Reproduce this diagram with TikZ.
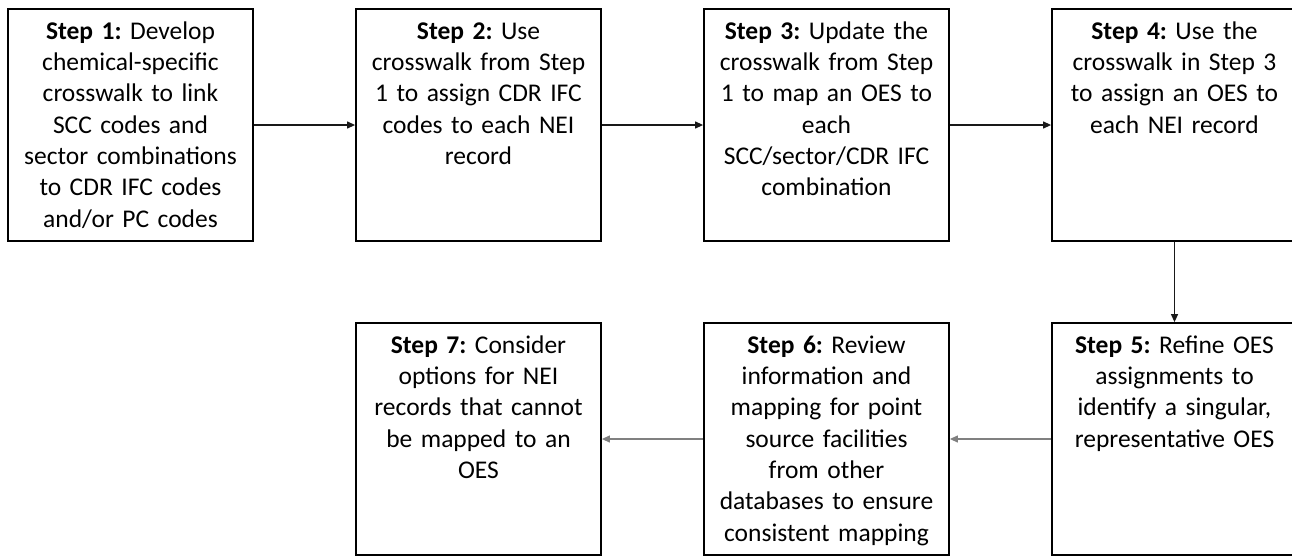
\documentclass[tikz,border=0pt]{standalone}
\usepackage{fontspec}
\setmainfont{Carlito}
\usetikzlibrary{arrows.meta}

\definecolor{flowgray}{RGB}{128,128,128}

\tikzset{
  stepbox/.style={draw=black, line width=1.8pt, minimum width=245pt,
    minimum height=232pt, inner sep=0pt, fill=white},
  steptext/.style={anchor=north, inner sep=0pt, text width=244pt, align=center,
    font=\fontsize{25.5}{31.3}\selectfont},
  flow/.style={line width=1.2pt, -{Triangle[length=8pt,width=7pt]}},
  topflow/.style={flow, draw=black!90},
  lowflow/.style={flow, draw=flowgray, color=flowgray},
}

% strut fixing the height above the first baseline
\newcommand{\firstline}{\rule{0pt}{20pt}}

\begin{document}
\frenchspacing
\begin{tikzpicture}[x=1pt, y=-1pt]
  \clip (0,0) rectangle (1292,555);
  \fill[white] (0,0) rectangle (1292,555);

  % upper row
  \node[stepbox] (s1) at (130.5,125) {};
  \node[stepbox] (s2) at (478.5,125) {};
  \node[stepbox] (s3) at (826.5,125) {};
  \node[stepbox] (s4) at (1174.5,125) {};
  % lower row
  \node[stepbox] (s5) at (1174.5,439) {};
  \node[stepbox] (s6) at (826.5,439) {};
  \node[stepbox] (s7) at (478.5,439) {};

  \node[steptext] (t1) at ([yshift=-11pt]s1.north) {\firstline\textbf{Step 1:} Develop\\
    chemical-specific\\ crosswalk to link\\ SCC codes and\\ sector combinations\\
    to CDR IFC codes\\ and/or PC codes};
  \node[steptext] (t2) at ([yshift=-11pt]s2.north) {\firstline\textbf{Step 2:} Use\\
    crosswalk from Step\\ 1 to assign CDR IFC\\ codes to each NEI\\ record};
  \node[steptext] (t3) at ([yshift=-11pt]s3.north) {\firstline\textbf{Step 3:} Update the\\
    crosswalk from Step\\ 1 to map an OES to\\ each\\ SCC/sector/CDR IFC\\ combination};
  \node[steptext] (t4) at ([yshift=-11pt]s4.north) {\firstline\textbf{Step 4:} Use the\\
    crosswalk in Step 3\\ to assign an OES to\\ each NEI record};
  \node[steptext] (t5) at ([yshift=-11pt]s5.north) {\firstline\textbf{Step 5:} Refine OES\\
    assignments to\\ identify a singular,\\ representative OES};
  \node[steptext] (t6) at ([yshift=-11pt]s6.north) {\firstline\textbf{Step 6:} Review\\
    information and\\ mapping for point\\ source facilities\\ from other\\
    databases to ensure\\ consistent mapping};
  \node[steptext] (t7) at ([yshift=-11pt]s7.north) {\firstline\textbf{Step 7:} Consider\\
    options for NEI\\ records that cannot\\ be mapped to an\\ OES};

  % connectors
  \draw[topflow] (s1.east) -- (s2.west);
  \draw[topflow] (s2.east) -- (s3.west);
  \draw[topflow] (s3.east) -- (s4.west);
  \draw[topflow] (s4.south) -- (s5.north);
  \draw[lowflow] (s5.west) -- (s6.east);
  \draw[lowflow] (s6.west) -- (s7.east);
\end{tikzpicture}
\end{document}
